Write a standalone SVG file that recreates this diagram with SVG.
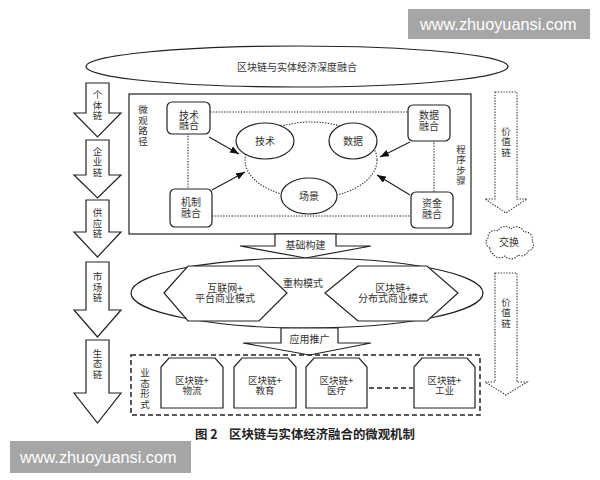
<svg xmlns="http://www.w3.org/2000/svg" width="600" height="480" viewBox="0 0 600 480">
<style>
.s{fill:none;stroke:#222;stroke-width:1.2}
.w{fill:#fff;stroke:#222;stroke-width:1.2}
.dot{fill:none;stroke:#333;stroke-width:1.1;stroke-dasharray:1.4 1.4}
.dotw{fill:#fff;stroke:#333;stroke-width:1.1;stroke-dasharray:1.4 1.4}
.dash{fill:none;stroke:#222;stroke-width:1.5;stroke-dasharray:5 3}
.t{font-family:"Noto Sans CJK SC",sans-serif;font-size:10px;fill:#333;text-anchor:middle}
.v{font-family:"Noto Sans CJK SC",sans-serif;font-size:9.5px;fill:#333;text-anchor:middle;writing-mode:tb;letter-spacing:1px}
.ts{font-family:"Noto Sans CJK SC",sans-serif;font-size:9.5px;fill:#333;text-anchor:middle}
.cap{font-family:"Noto Sans CJK SC",sans-serif;font-size:12.4px;font-weight:bold;fill:#222}
.wm{font-family:"Liberation Sans",Arial,sans-serif;font-size:16.3px;fill:#fff}
</style>
<defs>
<marker id="ah" markerUnits="userSpaceOnUse" markerWidth="9" markerHeight="7" refX="9" refY="3.5" orient="auto">
<path d="M0,0 L9,3.5 L0,7 z" fill="#111"/>
</marker>
</defs>
<rect width="600" height="480" fill="#fff"/>

<g id="top">
<ellipse class="w" cx="297" cy="66.5" rx="211" ry="20.5"/>
<text class="t" x="297" y="70.5">区块链与实体经济深度融合</text>
</g>

<g id="chain1">
<polygon class="w" points="86,83 109,83 109,113 121,113 97.5,137 74,113 86,113"/>
<text class="v" x="97.5" y="105.5">个体链</text>
</g>
<g id="chain2">
<polygon class="w" points="86,140 109,140 109,175 121,175 97.5,198 74,175 86,175"/>
<text class="v" x="97.5" y="162">企业链</text>
</g>
<g id="chain3">
<polygon class="w" points="86,200 109,200 109,232 121,232 97.5,257 74,232 86,232"/>
<text class="v" x="97.5" y="223.5">供应链</text>
</g>
<g id="chain4">
<polygon class="w" points="86,262 109,262 109,310 121,310 97.5,337 74,310 86,310"/>
<text class="v" x="97.5" y="287.5">市场链</text>
</g>
<g id="chain5">
<polygon class="w" points="86,340 109,340 109,393 121,393 97.5,423 74,393 86,393"/>
<text class="v" x="97.5" y="364">生态链</text>
</g>

<g id="value1">
<polygon class="dotw" points="495,92 517,92 517,199 527,199 506,213 485,199 495,199"/>
<text class="v" x="506" y="142">价值链</text>
</g>
<g id="exchange">
<path class="dotw" d="M490,248 a6,6 0 0,1 -2,-10 a7,7 0 0,1 10,-7 a8,8 0 0,1 13,-2 a8,8 0 0,1 13,3 a7,7 0 0,1 8,9 a6,6 0 0,1 -4,10 a7,7 0 0,1 -10,4 a8,8 0 0,1 -13,1 a8,8 0 0,1 -12,-2 a6,6 0 0,1 -3,-6 z"/>
<text class="t" x="509" y="245.8">交换</text>
</g>
<g id="value2">
<polygon class="dotw" points="495,273 517,273 517,382 527,382 506,395 485,382 495,382"/>
<text class="v" x="506" y="313">价值链</text>
</g>

<g id="micro">
<rect class="w" x="129" y="94" width="342" height="140"/>
<text class="v" x="143" y="126">微观路径</text>
<text class="v" x="461" y="165.5">程序步骤</text>
</g>

<g id="connectors">
<line class="dot" x1="210" y1="112" x2="408" y2="112"/>
<line class="dot" x1="212" y1="216" x2="411" y2="216"/>
<line class="dot" x1="188" y1="133" x2="188" y2="189"/>
<line class="dot" x1="434" y1="140" x2="434" y2="192"/>
<ellipse class="dot" cx="311" cy="160" rx="66" ry="38"/>
<line class="s" x1="209" y1="137" x2="239" y2="154" marker-end="url(#ah)"/>
<line class="s" x1="212" y1="190" x2="245" y2="172" marker-end="url(#ah)"/>
<line class="s" x1="410" y1="142" x2="380" y2="157" marker-end="url(#ah)"/>
<line class="s" x1="410" y1="195" x2="377" y2="175" marker-end="url(#ah)"/>
<line class="dash" x1="369" y1="388" x2="413" y2="388"/>
</g>

<g id="tech-fusion">
<rect class="w" x="167" y="102" width="43" height="32" rx="5"/>
<text class="t" x="189" y="118.5">技术</text>
<text class="t" x="189" y="129">融合</text>
</g>
<g id="mech-fusion">
<rect class="w" x="170" y="189" width="42" height="38" rx="5"/>
<text class="t" x="191" y="206">机制</text>
<text class="t" x="191" y="216.5">融合</text>
</g>
<g id="data-fusion">
<rect class="w" x="408" y="105" width="42" height="36" rx="5"/>
<text class="t" x="429" y="119">数据</text>
<text class="t" x="429" y="129.5">融合</text>
</g>
<g id="fund-fusion">
<rect class="w" x="411" y="192" width="42" height="36" rx="5"/>
<text class="t" x="432" y="207">资金</text>
<text class="t" x="432" y="217.5">融合</text>
</g>
<g id="tech">
<ellipse class="w" cx="265" cy="141" rx="29" ry="18"/>
<text class="t" x="265" y="144.8">技术</text>
</g>
<g id="data">
<ellipse class="w" cx="353" cy="141" rx="24" ry="18"/>
<text class="t" x="353" y="144.8">数据</text>
</g>
<g id="scene">
<ellipse class="w" cx="309" cy="196" rx="28" ry="18"/>
<text class="t" x="309" y="199.8">场景</text>
</g>

<g id="foundation">
<polygon class="w" points="275,234 336,234 336,246 371,246 305.5,258 240,246 275,246"/>
<text class="t" x="305.5" y="248.5">基础构建</text>
</g>

<g id="restructure">
<ellipse class="w" cx="307" cy="293" rx="176" ry="35"/>
<text class="t" x="303" y="286.8">重构模式</text>
</g>
<g id="internet">
<polygon class="w" points="164,293 188,266 259,266 287,293 259,321 188,321"/>
<text class="t" x="225" y="291.8">互联网+</text>
<text class="t" x="225" y="302.3">平台商业模式</text>
</g>
<g id="blockchain-mode">
<polygon class="w" points="325,293 358,266 427,266 458,293 427,321 358,321"/>
<text class="t" x="393" y="291.8">区块链+</text>
<text class="t" x="393" y="302.3">分布式商业模式</text>
</g>

<g id="application">
<polygon class="w" points="281,328 338,328 338,343 371,343 309.5,355 243,343 281,343"/>
<text class="t" x="309.5" y="342.5">应用推广</text>
</g>

<g id="forms">
<rect class="dash" x="131" y="355" width="349" height="60"/>
<text class="v" x="145" y="389">业态形式</text>
</g>
<g id="logistics">
<path class="w" d="M161,408 V367 L169,358 H215 L223,367 V408 Z"/>
<text class="ts" x="192" y="384">区块链+</text>
<text class="ts" x="192" y="394">物流</text>
</g>
<g id="education">
<path class="w" d="M234,408 V367 L242,358 H288 L296,367 V408 Z"/>
<text class="ts" x="265" y="384">区块链+</text>
<text class="ts" x="265" y="394">教育</text>
</g>
<g id="medical">
<path class="w" d="M306,408 V367 L314,358 H359 L367,367 V408 Z"/>
<text class="ts" x="336.5" y="384">区块链+</text>
<text class="ts" x="336.5" y="394">医疗</text>
</g>
<g id="industry">
<path class="w" d="M414,408 V367 L422,358 H467 L475,367 V408 Z"/>
<text class="ts" x="444.5" y="384">区块链+</text>
<text class="ts" x="444.5" y="394">工业</text>
</g>

<text class="cap" x="195" y="438.5">图 2<tspan x="229">区块链与实体经济融合的微观机制</tspan></text>

<g id="wm-top">
<rect x="408" y="9" width="182" height="30" fill="#a6a6a6"/>
<text class="wm" x="420" y="30">www.zhuoyuansi.com</text>
</g>
<g id="wm-bottom">
<rect x="10" y="441" width="181" height="32" fill="#a6a6a6"/>
<text class="wm" x="20" y="463">www.zhuoyuansi.com</text>
</g>
</svg>
